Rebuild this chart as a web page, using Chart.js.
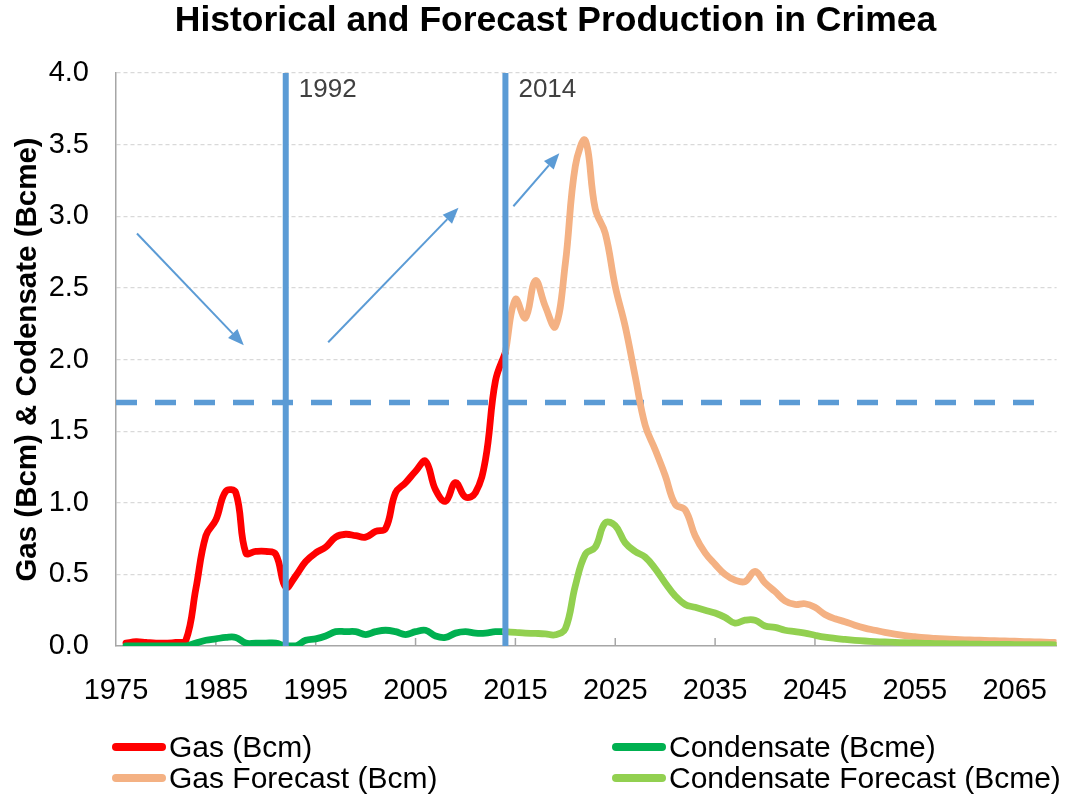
<!DOCTYPE html>
<html>
<head>
<meta charset="utf-8">
<script src="https://cdn.jsdelivr.net/npm/chart.js@4.4.1/dist/chart.umd.min.js"></script>
<style>
html,body{margin:0;padding:0;background:#fff;}
#wrap{position:relative;width:1067px;height:797px;overflow:hidden;}
#c{position:absolute;left:0;top:0;}
.leg{position:absolute;display:flex;align-items:center;font-family:'Liberation Sans',Arial,sans-serif;font-size:30px;line-height:1;color:#000;white-space:nowrap;}
.leg .sw{width:54px;height:7.5px;border-radius:4px;margin-right:3px;}
</style>
</head>
<body>
<div id="wrap"><canvas id="c" width="1067" height="797"></canvas><div id="legend"></div></div>
<script>
// ---------- data ----------
const histYears = [1976,1977,1978,1979,1980,1981,1982,1983,1984,1985,
                   1986,1987,1988,1989,1990,1991,1992,1993,1994,1995,
                   1996,1997,1998,1999,2000,2001,2002,2003,2004,2005,
                   2006,2007,2008,2009,2010,2011,2012,2013,2014];
const gasHist = [0.02,0.03,0.025,0.02,0.02,0.025,0.04,0.40,0.77,0.88,
                 1.08,1.07,0.65,0.66,0.66,0.64,0.41,0.49,0.59,0.65,
                 0.69,0.76,0.78,0.77,0.76,0.80,0.82,1.07,1.14,1.22,
                 1.29,1.09,1.01,1.14,1.04,1.07,1.30,1.85,2.05];
const condHist = [0.0,0.0,0.0,0.0,0.0,0.0,0.0,0.02,0.04,0.05,
                  0.06,0.06,0.02,0.02,0.02,0.02,0.0,0.0,0.04,0.05,
                  0.07,0.10,0.10,0.10,0.08,0.10,0.11,0.10,0.08,0.10,
                  0.11,0.07,0.06,0.09,0.10,0.09,0.09,0.10,0.10];
const fcYears = [2014,2015,2016,2017,2018,2019,2020,2021,2022,2023,
                 2024,2025,2026,2027,2028,2029,2030,2031,2032,2033,
                 2034,2035,2036,2037,2038,2039,2040,2041,2042,2043,
                 2044,2045,2046,2047,2048,2049,2050,2051,2052,2053,
                 2054,2055,2056,2057,2058,2059,2060,2061,2062,2063,
                 2064,2065,2066,2067,2068,2069];
const gasFc = [2.05,2.42,2.29,2.55,2.37,2.23,2.67,3.35,3.53,3.05,
               2.88,2.51,2.23,1.88,1.54,1.37,1.19,0.99,0.95,0.77,
               0.65,0.57,0.50,0.46,0.45,0.52,0.44,0.38,0.315,0.29,
               0.295,0.27,0.22,0.19,0.17,0.145,0.125,0.11,0.095,0.083,
               0.073,0.065,0.058,0.053,0.049,0.046,0.043,0.041,0.039,0.037,
               0.035,0.033,0.031,0.029,0.027,0.025];
const condFc = [0.10,0.095,0.09,0.088,0.085,0.078,0.12,0.42,0.64,0.69,
                0.86,0.84,0.72,0.66,0.62,0.54,0.44,0.35,0.29,0.27,
                0.25,0.23,0.20,0.16,0.18,0.18,0.14,0.13,0.11,0.10,
                0.09,0.075,0.062,0.053,0.046,0.04,0.035,0.031,0.028,0.025,
                0.023,0.021,0.019,0.017,0.016,0.015,0.014,0.013,0.012,0.011,
                0.011,0.01,0.01,0.009,0.009,0.008];
const seriesLabels = ['Gas (Bcm)','Condensate (Bcme)','Gas Forecast (Bcm)','Condensate Forecast (Bcme)'];
const xTickYears = [1975,1985,1995,2005,2015,2025,2035,2045,2055,2065];
const yTickValues = [0,0.5,1,1.5,2,2.5,3,3.5,4];
const eventYears = [1992,2014];
const eventLabels = ['1992','2014'];
const thresholdValue = 1.7;
const thresholdSpan = [1975,2067.9];
// arrows: [fromYear, fromValue, toYear, toValue]
const arrows = [[1977.1,2.88,1987.8,2.10],[1996.25,2.12,2009.3,3.06],[2014.8,3.07,2019.4,3.44]];

// ---------- styles ----------
const BLUE = '#5B9BD5';
const FONT = "'Liberation Sans', Arial, sans-serif";
Chart.defaults.font.family = FONT;
const toPts = (xs, ys) => xs.map((x, i) => ({x: x, y: ys[i]}));
const lineBase = {pointRadius:0, borderWidth:6.8, tension:0.4, fill:false, borderCapStyle:'round', borderJoinStyle:'round'};

const datasets = [
  Object.assign({label:seriesLabels[0], data:toPts(histYears, gasHist), borderColor:'#FF0000', order:4}, lineBase),
  Object.assign({label:seriesLabels[1], data:toPts(histYears, condHist), borderColor:'#00B050', order:2}, lineBase),
  Object.assign({label:seriesLabels[2], data:toPts(fcYears, gasFc), borderColor:'#F4B183', order:3}, lineBase),
  Object.assign({label:seriesLabels[3], data:toPts(fcYears, condFc), borderColor:'#92D050', order:1}, lineBase),
  {label:'threshold', data:thresholdSpan.map(v => ({x:v, y:thresholdValue})), borderColor:BLUE, borderWidth:5.5,
   borderDash:[21,18], pointRadius:0, order:10, tension:0, borderCapStyle:'butt'}
];
eventYears.forEach(yr => datasets.push({label:'event '+yr, data:[{x:yr,y:0},{x:yr,y:4}], borderColor:BLUE,
  borderWidth:6, pointRadius:0, order:0, tension:0}));

const annot = {
  id:'annot',
  beforeDatasetsDraw(chart){
    const {ctx, scales:{x}, chartArea:a} = chart;
    ctx.save();
    ctx.strokeStyle = '#A6A6A6'; ctx.lineWidth = 1.5;
    x.ticks.forEach(t => {
      const px = x.getPixelForValue(t.value);
      if (Math.abs(px - a.left) < 2) return;
      ctx.beginPath(); ctx.moveTo(px, a.bottom); ctx.lineTo(px, a.bottom - 8); ctx.stroke();
    });
    ctx.restore();
  },
  afterDatasetsDraw(chart){
    const {ctx, scales:{x, y}} = chart;
    ctx.save();
    ctx.fillStyle = '#404040';
    ctx.font = "26px 'Liberation Sans Narrow', 'Liberation Sans', Arial, sans-serif";
    ctx.textAlign = 'left'; ctx.textBaseline = 'alphabetic';
    eventYears.forEach((yr, i) => ctx.fillText(eventLabels[i], x.getPixelForValue(yr) + 13, y.getPixelForValue(4) + 24));
    ctx.strokeStyle = BLUE; ctx.fillStyle = BLUE; ctx.lineWidth = 2;
    arrows.forEach(ar => {
      const x1 = x.getPixelForValue(ar[0]), y1 = y.getPixelForValue(ar[1]);
      const x2 = x.getPixelForValue(ar[2]), y2 = y.getPixelForValue(ar[3]);
      const ang = Math.atan2(y2 - y1, x2 - x1), L = 16, W = 6.5;
      const bx = x2 - L * Math.cos(ang), by = y2 - L * Math.sin(ang);
      ctx.beginPath(); ctx.moveTo(x1, y1); ctx.lineTo(bx, by); ctx.stroke();
      ctx.beginPath(); ctx.moveTo(x2, y2);
      ctx.lineTo(bx + W * Math.sin(ang), by - W * Math.cos(ang));
      ctx.lineTo(bx - W * Math.sin(ang), by + W * Math.cos(ang));
      ctx.closePath(); ctx.fill();
    });
    ctx.restore();
  }
};

const chart = new Chart(document.getElementById('c'), {
  type:'line',
  data:{datasets:datasets},
  options:{
    responsive:false, animation:false, events:[],
    layout:{padding:{left:46, right:2, top:0, bottom:0}},
    plugins:{
      legend:{display:false}, tooltip:{enabled:false},
      title:{display:true, text:'Historical and Forecast Production in Crimea', color:'#000',
        font:{family:FONT, size:35.5, weight:'bold', lineHeight:1.2}, padding:{top:0, bottom:30.4}}
    },
    scales:{
      x:{type:'linear', min:1975, max:2069.2,
        afterBuildTicks:s => { s.ticks = xTickYears.map(v => ({value:v})); },
        ticks:{color:'#000', font:{size:29}, padding:20, maxRotation:0, autoSkip:false, callback:v => String(v)},
        grid:{display:false},
        border:{display:true, color:'#A6A6A6', width:1.5},
        afterFit:s => { s.height = 151; }
      },
      y:{type:'linear', min:0, max:4,
        afterBuildTicks:s => { s.ticks = yTickValues.map(v => ({value:v})); },
        ticks:{color:'#000', font:{size:29}, padding:27, callback:v => Number(v).toFixed(1)},
        grid:{color:c => (c.tick && c.tick.value === 0) ? 'rgba(0,0,0,0)' : '#D9D9D9', lineWidth:1.2, drawTicks:false},
        border:{display:true, color:'#A6A6A6', width:1.5, dash:[4,3]},
        title:{display:true, text:'Gas (Bcm) & Codensate (Bcme)', color:'#000',
          font:{family:FONT, size:29.5, weight:'bold', lineHeight:1.2}, padding:{top:-35.7, bottom:0}},
        afterFit:s => { s.width = 70; }
      }
    }
  },
  plugins:[annot]
});

// HTML legend built from the chart's datasets
const legendCols = [112, 612];
const legendRows = [747, 778];
const legendOrder = [[0,1],[2,3]];
const legEl = document.getElementById('legend');
legendOrder.forEach((row, r) => row.forEach((di, c) => {
  const ds = chart.data.datasets[di];
  const item = document.createElement('div');
  item.className = 'leg';
  item.style.left = legendCols[c] + 'px';
  item.style.top = (legendRows[r] - 15) + 'px';
  const sw = document.createElement('span'); sw.className = 'sw'; sw.style.background = ds.borderColor;
  const tx = document.createElement('span'); tx.textContent = ds.label;
  item.appendChild(sw); item.appendChild(tx);
  legEl.appendChild(item);
}));
</script>
</body>
</html>
